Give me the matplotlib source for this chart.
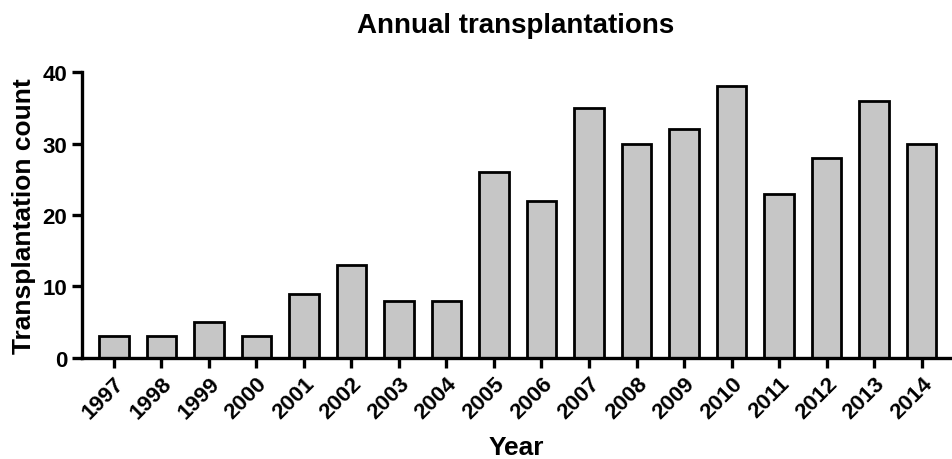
import matplotlib.pyplot as plt
import numpy as np

plt.rcParams['font.family'] = ['Liberation Sans', 'DejaVu Sans']

# data
years = ['1997', '1998', '1999', '2000', '2001', '2002', '2003', '2004', '2005',
         '2006', '2007', '2008', '2009', '2010', '2011', '2012', '2013', '2014']
counts = [3, 3, 5, 3, 9, 13, 8, 8, 26, 22, 35, 30, 32, 38, 23, 28, 36, 30]

fig = plt.figure(figsize=(9.53, 4.6), dpi=100)
ax = fig.add_axes([0.086, 0.22, 0.911, 0.621])

x = np.arange(len(years))
ax.bar(x, counts, width=0.62, color='#c6c6c6', edgecolor='black', linewidth=2.0)

ax.set_xlim(-0.67, 17.6)
ax.set_ylim(0, 40)
ax.set_yticks([0, 10, 20, 30, 40])
ax.set_xticks(x)
ax.set_xticklabels(years, rotation=45, ha='right', rotation_mode='anchor')

for s in ['top', 'right']:
    ax.spines[s].set_visible(False)
for s in ['left', 'bottom']:
    ax.spines[s].set_linewidth(2.4)

ax.tick_params(axis='both', width=2.4, length=7.5, labelsize=16, pad=3)
for lab in ax.get_xticklabels() + ax.get_yticklabels():
    lab.set_fontweight('bold')

ax.set_ylabel('Transplantation count', fontsize=19, fontweight='bold', labelpad=5)
ax.set_xlabel('Year', fontsize=19, fontweight='bold', labelpad=9)
ax.set_title('Annual transplantations', fontsize=20, fontweight='bold', pad=29)

fig.savefig('out.png', dpi=100)
